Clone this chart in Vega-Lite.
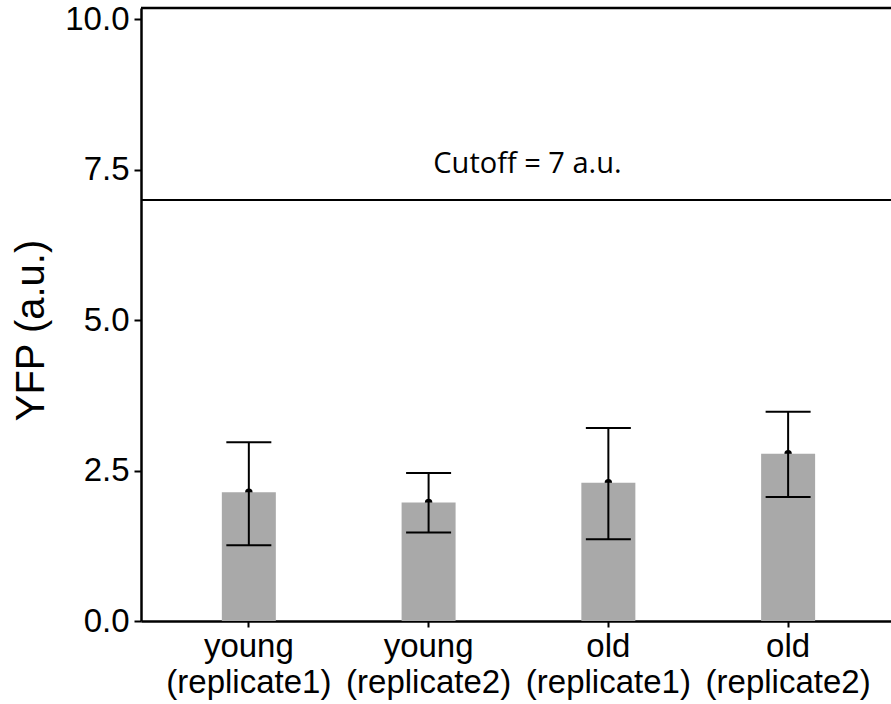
{
  "$schema": "https://vega.github.io/schema/vega-lite/v6.json",
  "width": 750,
  "height": 613,
  "autosize": {"type": "none"},
  "padding": {"left": 141, "top": 8, "right": 0, "bottom": 83},
  "background": "white",
  "config": {
    "view": {"stroke": null},
    "axis": {
      "grid": false,
      "domainColor": "black",
      "domainWidth": 2.5,
      "tickColor": "black",
      "tickWidth": 2,
      "labelColor": "black",
      "titleColor": "black",
      "labelFont": "Liberation Sans",
      "titleFont": "Liberation Sans"
    }
  },
  "data": {
    "values": [
      {"group": "young (replicate1)", "mean": 2.14, "lower": 1.26, "upper": 2.97},
      {"group": "young (replicate2)", "mean": 1.97, "lower": 1.47, "upper": 2.46},
      {"group": "old (replicate1)", "mean": 2.30, "lower": 1.36, "upper": 3.21},
      {"group": "old (replicate2)", "mean": 2.78, "lower": 2.06, "upper": 3.48}
    ]
  },
  "layer": [
    {
      "mark": {"type": "point", "filled": true, "color": "black", "size": 55, "opacity": 1},
      "encoding": {
        "x": {
          "field": "group",
          "type": "nominal",
          "sort": null,
          "scale": {
            "domain": ["young (replicate1)", "young (replicate2)", "old (replicate1)", "old (replicate2)"],
            "paddingInner": 0,
            "paddingOuter": 0.0861,
            "align": 0.58
          },
          "axis": {
            "orient": "bottom",
            "title": null,
            "labelAngle": 0,
            "labelExpr": "split(datum.label, ' ')",
            "labelFontSize": 33,
            "labelLineHeight": 36,
            "tickSize": 6,
            "labelPadding": 3
          }
        },
        "y": {
          "field": "mean",
          "type": "quantitative",
          "scale": {"domain": [0, 10.19], "nice": false, "zero": true},
          "axis": {
            "values": [0, 2.5, 5, 7.5, 10],
            "format": ".1f",
            "labelFontSize": 33,
            "tickSize": 7,
            "labelPadding": 5,
            "title": "YFP (a.u.)",
            "titleFontSize": 40,
            "titleFontWeight": "normal",
            "titlePadding": 13,
            "titleY": 322
          }
        }
      }
    },
    {
      "mark": {"type": "bar", "color": "#A9A9A9", "size": 54},
      "encoding": {
        "x": {"field": "group", "type": "nominal", "sort": null},
        "y": {"field": "mean", "type": "quantitative"}
      }
    },
    {
      "mark": {"type": "rule", "color": "black", "strokeWidth": 2},
      "encoding": {
        "x": {"field": "group", "type": "nominal", "sort": null},
        "y": {"field": "lower", "type": "quantitative"},
        "y2": {"field": "upper"}
      }
    },
    {
      "mark": {"type": "tick", "color": "black", "thickness": 2, "size": 45, "orient": "horizontal", "opacity": 1},
      "encoding": {
        "x": {"field": "group", "type": "nominal", "sort": null},
        "y": {"field": "lower", "type": "quantitative"}
      }
    },
    {
      "mark": {"type": "tick", "color": "black", "thickness": 2, "size": 45, "orient": "horizontal", "opacity": 1},
      "encoding": {
        "x": {"field": "group", "type": "nominal", "sort": null},
        "y": {"field": "upper", "type": "quantitative"}
      }
    },
    {
      "data": {"values": [{"cutoff": 7, "label": "Cutoff = 7 a.u."}]},
      "mark": {"type": "rule", "color": "black", "strokeWidth": 2},
      "encoding": {
        "y": {"field": "cutoff", "type": "quantitative"}
      }
    },
    {
      "data": {"values": [{"cutoff": 7, "label": "Cutoff = 7 a.u."}]},
      "mark": {"type": "rule", "color": "black", "strokeWidth": 2.5},
      "encoding": {
        "y": {"datum": 10.19}
      }
    },
    {
      "data": {"values": [{"cutoff": 7, "label": "Cutoff = 7 a.u."}]},
      "mark": {"type": "text", "font": "Open Sans", "fontSize": 29, "color": "black", "baseline": "middle", "align": "center"},
      "encoding": {
        "text": {"field": "label"},
        "x": {"datum": "old (replicate1)", "bandPosition": 0.05},
        "y": {"datum": 7.6}
      }
    }
  ]
}
